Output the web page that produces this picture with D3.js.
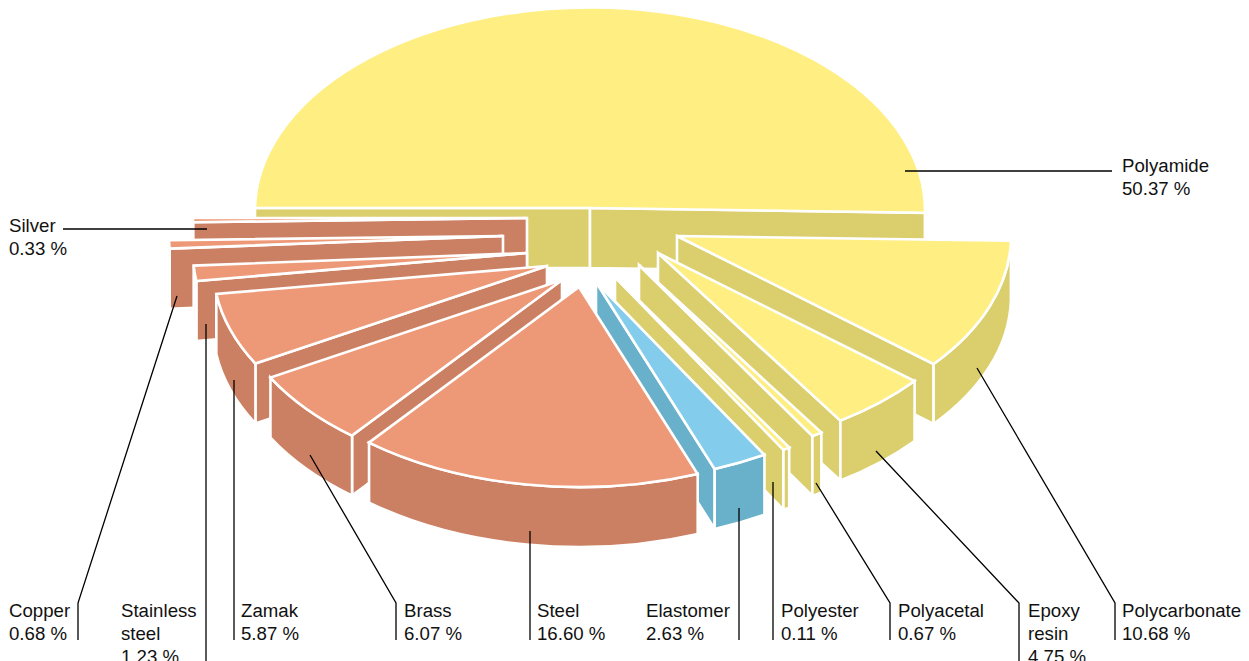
<!DOCTYPE html>
<html>
<head>
<meta charset="utf-8">
<script src="https://cdn.jsdelivr.net/npm/d3@7"></script>
<style>
  html, body { margin: 0; background: #fff; overflow: hidden; }
  text { font-family: "Liberation Sans", Arial, sans-serif; font-size: 18.65px; fill: #111; }
</style>
</head>
<body>
<svg id="chart" width="1249" height="661"></svg>
<script>
// Materials in pie order, clockwise from the left.
const materials = ["Polyamide", "Polycarbonate", "Epoxy resin", "Polyacetal", "Polyester", "Elastomer",
  "Steel", "Brass", "Zamak", "Stainless steel", "Copper", "Silver"];
const shares = [50.37, 10.68, 4.75, 0.67, 0.11, 2.63, 16.60, 6.07, 5.87, 1.23, 0.68, 0.33];
const groups = ["plastic", "plastic", "plastic", "plastic", "plastic", "rubber",
  "metal", "metal", "metal", "metal", "metal", "metal"];

// Wrapped label names (name lines only, the share goes on the next line).
const labelLines = [["Polyamide"], ["Polycarbonate"], ["Epoxy", "resin"], ["Polyacetal"], ["Polyester"], ["Elastomer"],
  ["Steel"], ["Brass"], ["Zamak"], ["Stainless", "steel"], ["Copper"], ["Silver"]];

// How far each slice is pulled out of the pie, in px from the pie centre.
const explodeX = [0, 87, 68, 49, 25, 6, -11, -28, -43, -63, -87, -63];
const explodeY = [0, 28, 45, 57, 69, 74, 79, 72, 58, 45, 28, 10];

// Drawing order, back to front.
const drawOrder = [0, 1, 2, 3, 4, 11, 10, 9, 8, 7, 5, 6];

// Label anchors and leader polylines.
const labelX = [1122, 1122, 1028, 898, 781, 646, 537, 404, 241, 121, 9, 9];
const labelY = [172, 617, 617, 617, 617, 617, 617, 617, 617, 617, 617, 232];
const leaders = [
  [[905, 171], [1112, 171]],
  [[977, 368], [1115, 603], [1115, 640]],
  [[876, 451], [1019, 603], [1019, 661]],
  [[816, 483], [890, 603], [890, 640]],
  [[773, 482], [773, 640]],
  [[739, 508], [739, 640]],
  [[530, 531], [530, 640]],
  [[310, 455], [396, 603], [396, 640]],
  [[234, 380], [234, 640]],
  [[206, 324], [206, 661]],
  [[177, 296], [78, 603], [78, 640]],
  [[63, 229], [207, 229]]
];

const colors = {
  plastic: { top: "#ffee82", side: "#dbce6d" },
  rubber: { top: "#84cceb", side: "#69b0cb" },
  metal: { top: "#ed9977", side: "#cc8063" }
};

const centerX = 590, centerY = 208;
const rx = 334, ry = 200, depth = 60;
const deg = Math.PI / 180;

const svg = d3.select("#chart");

const pie = d3.pie().sort(null)
  .startAngle(-Math.PI / 2)
  .endAngle(Math.PI * 1.5);
const slices = pie(shares);

// The two thinnest slices are not quite to scale in the picture.
slices[3].endAngle -= 0.6 * deg;
slices[4].startAngle -= 0.75 * deg;

const arcTop = d3.arc().innerRadius(0).outerRadius(1);

// Pie angle (0 = up, clockwise) to a point on the rim of the flattened disc.
const rimX = d3.scaleLinear().domain([-1, 1]).range([-rx, rx]);
const rimY = d3.scaleLinear().domain([-1, 1]).range([-ry, ry]);
const rim = (a, grow = 0) => [rimX(Math.sin(a)) + grow * Math.sign(Math.sin(a)), rimY(-Math.cos(a))];

function cutFace(a, grow) {
  const p = rim(a, grow);
  return `M0,0L${p[0]},${p[1]}L${p[0]},${p[1] + depth}L0,${depth}Z`;
}

function outerWall(a0, a1) {
  // Only the front half of the rim faces the viewer.
  const from = Math.max(a0, Math.PI / 2), to = Math.min(a1, Math.PI * 1.5);
  if (to <= from) return null;
  const p0 = rim(from), p1 = rim(to);
  return `M${p0[0]},${p0[1]}A${rx},${ry} 0 0 1 ${p1[0]},${p1[1]}` +
    `L${p1[0]},${p1[1] + depth}A${rx},${ry} 0 0 0 ${p0[0]},${p0[1] + depth}Z`;
}

drawOrder.forEach(i => {
  const s = slices[i];
  const c = colors[groups[i]];
  const g = svg.append("g")
    .attr("transform", `translate(${centerX + explodeX[i]},${centerY + explodeY[i]})`)
    .attr("stroke", "#fff")
    .attr("stroke-width", 2.6)
    .attr("stroke-linejoin", "miter");

  // The back half sits a little larger than the front.
  const back = Math.cos((s.startAngle + s.endAngle) / 2) > 0;
  const grow = back ? 1 : 0;

  // Cut faces: start edge shows on the left half, end edge on the right half.
  if (Math.sin(s.startAngle) < 0) g.append("path").attr("d", cutFace(s.startAngle, grow)).attr("fill", c.side);
  if (Math.sin(s.endAngle) > 0) g.append("path").attr("d", cutFace(s.endAngle, grow)).attr("fill", c.side);

  // A slice whose end edge sits on the back half of the rim has no outer wall to draw.
  const wall = back ? null : outerWall(s.startAngle, s.endAngle);
  if (wall) g.append("path").attr("d", wall).attr("fill", c.side);

  g.append("path")
    .attr("transform", `scale(${rx + grow},${back ? ry + 3 : ry})`)
    .attr("vector-effect", "non-scaling-stroke")
    .attr("d", arcTop(s))
    .attr("fill", c.top);
});

// Leader lines
const line = d3.line();
svg.append("g").selectAll("path")
  .data(leaders)
  .join("path")
  .attr("d", line)
  .attr("fill", "none")
  .attr("stroke", "#000")
  .attr("stroke-width", 1.3);

// Labels
materials.forEach((m, i) => {
  const lines = labelLines[i].concat(d3.format(".2f")(shares[i]) + " %");
  const t = svg.append("text").attr("x", labelX[i]).attr("y", labelY[i]);
  t.selectAll("tspan")
    .data(lines)
    .join("tspan")
    .attr("x", labelX[i])
    .attr("dy", (d, k) => k === 0 ? 0 : 23)
    .text(d => d);
});
</script>
</body>
</html>
